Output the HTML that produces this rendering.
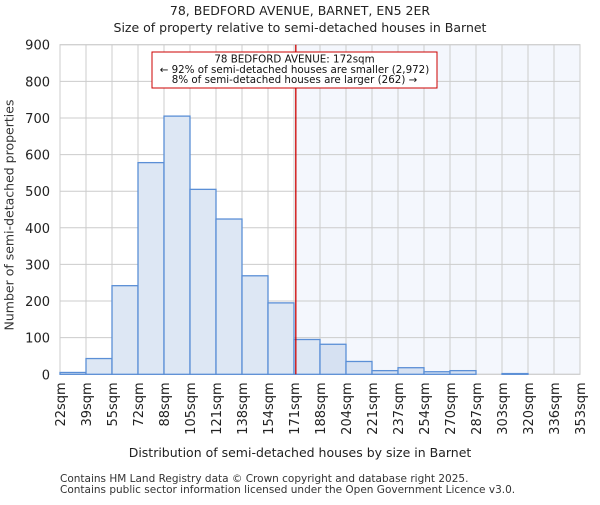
<!DOCTYPE html>
<html><head><meta charset="utf-8"><style>body{margin:0;background:#fff}svg{font-family:"DejaVu Sans","Liberation Sans",sans-serif}</style></head>
<body>
<svg id="c" width="600" height="500"></svg>
<script>
const tickLabels=["22sqm","39sqm","55sqm","72sqm","88sqm","105sqm","121sqm","138sqm","154sqm","171sqm","188sqm","204sqm","221sqm","237sqm","254sqm","270sqm","287sqm","303sqm","320sqm","336sqm","353sqm"];
const counts=[5,43,242,578,705,505,424,269,195,95,82,35,10,18,7,10,0,2,0,0];
const yTicks=[0,100,200,300,400,500,600,700,800,900];
const markerIndex=9.07;
const NS="http://www.w3.org/2000/svg";
const svg=document.getElementById('c');
const L=60,R=580,T=44.7,B=374.3;
const bw=(R-L)/counts.length;
const x=i=>L+i*bw;
const y=v=>B-(v/900)*(B-T);
function el(t,a,p){const e=document.createElementNS(NS,t);for(const k in a)e.setAttribute(k,a[k]);(p||svg).appendChild(e);return e;}
function txt(s,a){const e=el('text',a);e.textContent=s;return e;}
const mx=x(markerIndex);
const shade=el('rect',{x:mx,y:T,width:R-mx,height:B-T,fill:'#f4f7fd'});


yTicks.forEach(v=>{const g=el('line',{x1:L,x2:R,y1:y(v),y2:y(v),stroke:'#cccccc'});

const t=txt(String(v),{x:L-10,y:y(v)+5,'text-anchor':'end','font-size':13,fill:'#222'});
});
tickLabels.forEach((s,i)=>{const g=el('line',{x1:x(i),x2:x(i),y1:T,y2:B,stroke:'#cccccc'});

const t=txt(s,{transform:`translate(${x(i)+5},${B+8}) rotate(-90)`,'text-anchor':'end','font-size':13,fill:'#222'});
});
el('rect',{x:L,y:T,width:R-L,height:B-T,fill:'none',stroke:'#cccccc'});
counts.forEach((v,i)=>{if(v<=0)return;const r=el('rect',{x:x(i),y:y(v),width:bw,height:B-y(v),fill:i>=Math.ceil(markerIndex)?'#d6e1f2':'#dde7f4',stroke:'#5b8fd6','stroke-width':1.3});
});
const ml=el('line',{x1:mx,x2:mx,y1:T,y2:B,stroke:'#cc0000','stroke-width':1.3});

const box=el('rect',{x:152,y:52,width:285,height:36,fill:'#fff',stroke:'#cc0000'});

["78 BEDFORD AVENUE: 172sqm","← 92% of semi-detached houses are smaller (2,972)","8% of semi-detached houses are larger (262) →"].forEach((s,i)=>{
const t=txt(s,{x:294.5,y:62.5+i*10.3,'text-anchor':'middle','font-size':10.3,fill:'#111','textLength':i==0?null:null});
});
</script>
<div style="position:absolute;left:0;top:0;width:600px;height:500px;pointer-events:none;font-family:'DejaVu Sans','Liberation Sans',sans-serif;color:#222">
<div style="position:absolute;top:2px;width:600px;text-align:center;font-size:12.5px;line-height:17px">78, BEDFORD AVENUE, BARNET, EN5 2ER<br>Size of property relative to semi-detached houses in Barnet</div>
<div style="position:absolute;left:9px;top:215px;transform:translate(-50%,-50%) rotate(-90deg);white-space:nowrap;font-size:12.5px;color:#333">Number of semi-detached properties</div>
<div style="position:absolute;top:445px;width:600px;text-align:center;font-size:12.5px">Distribution of semi-detached houses by size in Barnet</div>
<div style="position:absolute;left:60px;top:474px;font-size:10.5px;line-height:11px;color:#333">Contains HM Land Registry data © Crown copyright and database right 2025.<br>Contains public sector information licensed under the Open Government Licence v3.0.</div>
</div>
</body></html>
